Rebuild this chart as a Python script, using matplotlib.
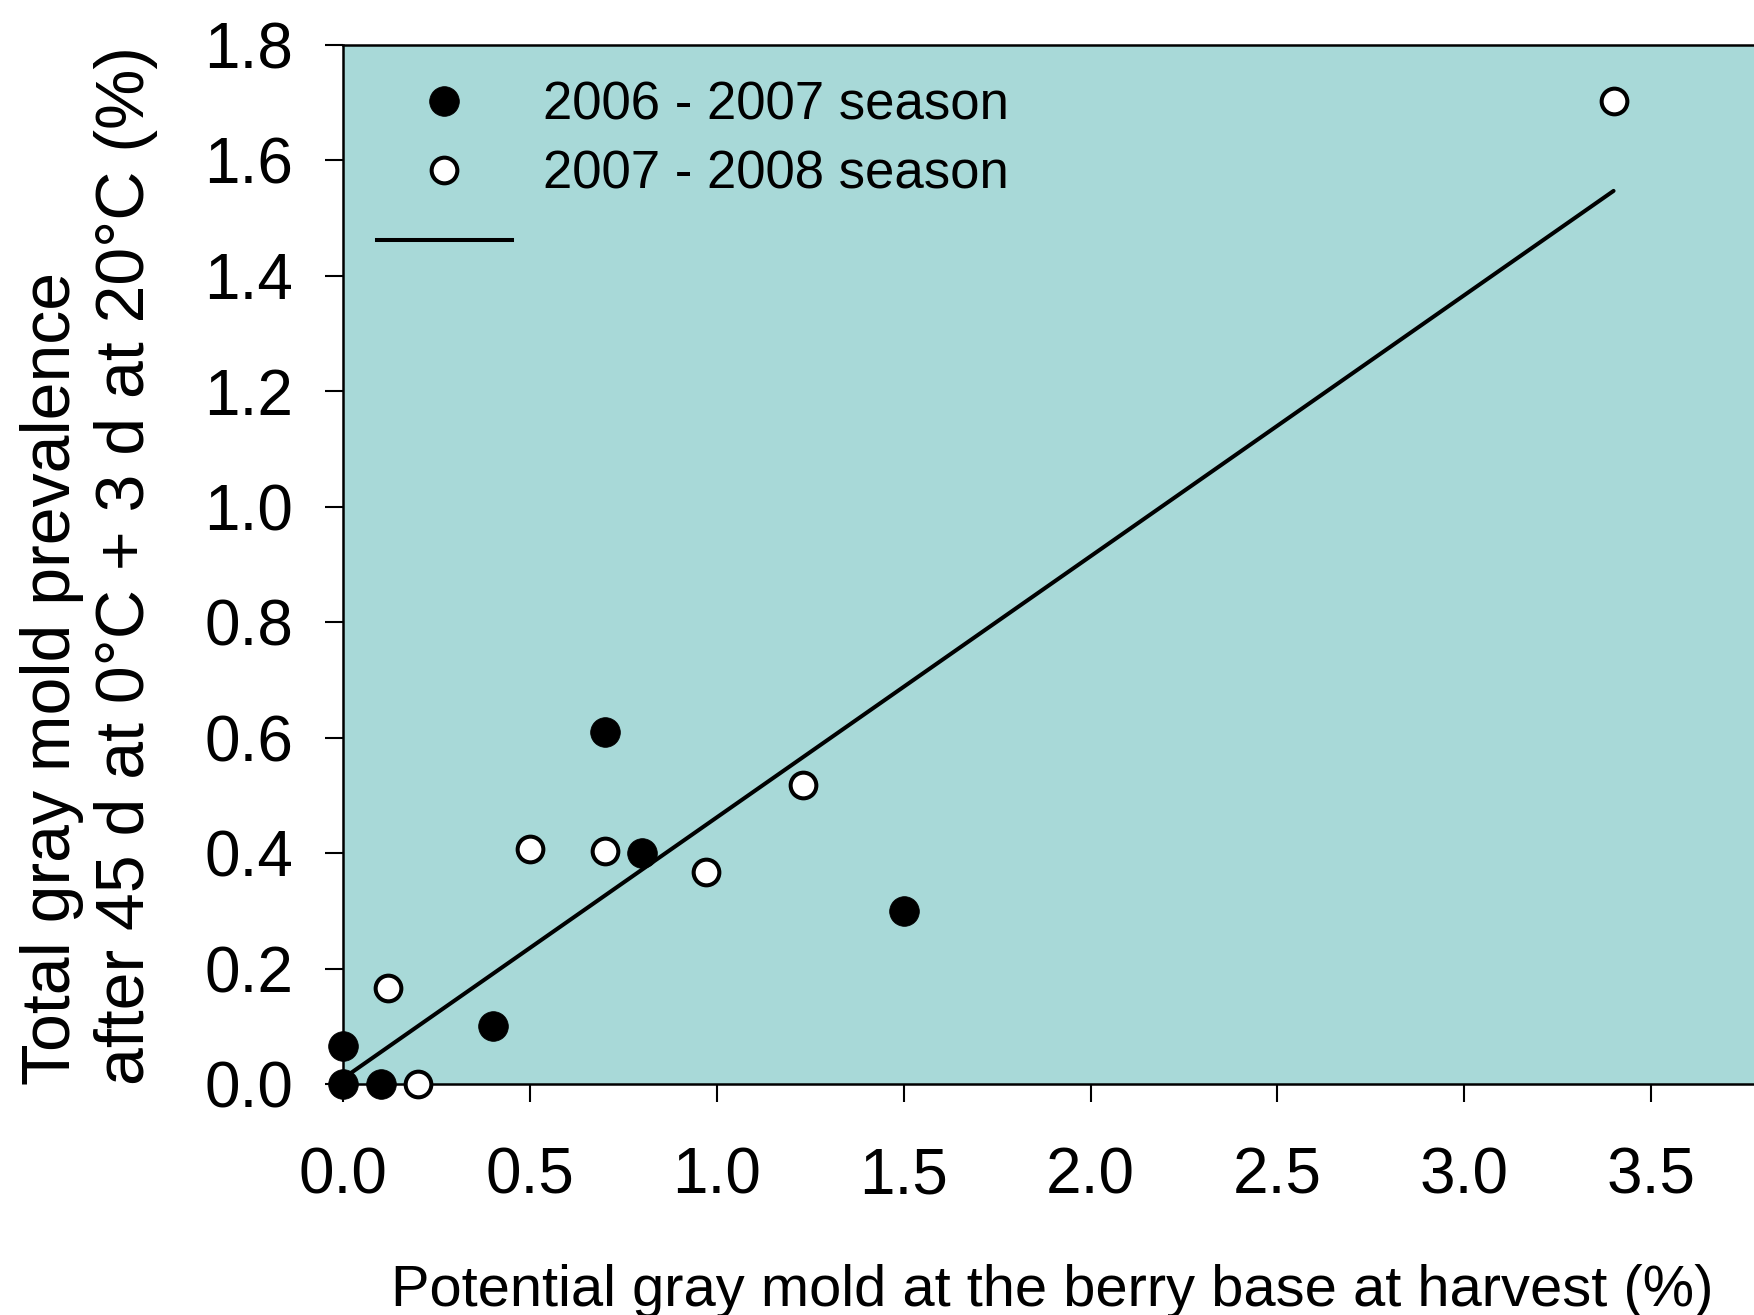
import matplotlib
matplotlib.use("Agg")
import matplotlib.pyplot as plt
from matplotlib.lines import Line2D
import numpy as np

plt.rcParams['font.family'] = ['Liberation Sans', 'DejaVu Sans']

# 2006 - 2007 season (filled markers)
x_0607 = [0.0, 0.0, 0.1, 0.4, 0.7, 0.8, 1.5]
y_0607 = [0.066, 0.0, 0.0, 0.1, 0.61, 0.4, 0.3]

# 2007 - 2008 season (open markers)
x_0708 = [0.12, 0.2, 0.5, 0.7, 0.97, 1.23, 3.4]
y_0708 = [0.167, 0.0, 0.407, 0.403, 0.368, 0.517, 1.703]

# Linear regression over both seasons
fit_intercept = 0.01
fit_slope = 0.452
fit_range = [0.0, 3.4]

x_ticks = [0.0, 0.5, 1.0, 1.5, 2.0, 2.5, 3.0, 3.5]
y_ticks = [0.0, 0.2, 0.4, 0.6, 0.8, 1.0, 1.2, 1.4, 1.6, 1.8]

legend_labels = ['2006 - 2007 season', '2007 - 2008 season', '']

W, H = 1754, 1315
fig = plt.figure(figsize=(W / 100, H / 100), dpi=100)
ax = fig.add_axes([343.4 / W, 1 - 1084 / H, (1763 - 343.4) / W, (1084 - 44.7) / H])
ax.set_facecolor('#a8d9d8')

ax.set_xlim(0, 3.8)
ax.set_ylim(0, 1.8)

fx = np.array(fit_range)
fy = fit_intercept + fit_slope * fx
reg_line, = ax.plot(fx, fy, color='black', lw=2.9, solid_capstyle='round', zorder=3)

ms = 18.5
mew = 2.9
h1, = ax.plot(x_0607, y_0607, 'o', ms=ms + mew, mfc='black', mec='black', mew=0.5,
              clip_on=False, zorder=5)
h2, = ax.plot(x_0708, y_0708, 'o', ms=ms, mfc='white', mec='black', mew=mew,
              clip_on=False, zorder=5)

ax.set_xticks(x_ticks)
ax.set_xticklabels([f'{v:.1f}' for v in x_ticks])
ax.set_yticks(y_ticks)
ax.set_yticklabels([f'{v:.1f}' for v in y_ticks])

ax.tick_params(axis='x', direction='out', length=13, width=1.5, pad=32, labelsize=46)
ax.tick_params(axis='y', direction='out', length=13, width=1.5, pad=23, labelsize=46)

for side in ['left', 'top', 'bottom', 'right']:
    ax.spines[side].set_linewidth(1.8)
    ax.spines[side].set_color('black')

leg_line = Line2D([], [], color='black', lw=2.9)
leg = ax.legend([h1, h2, leg_line], legend_labels, loc='upper left',
                bbox_to_anchor=((377 - 343.4) / (1763 - 343.4), 1 - (80 - 44.7) / (1084 - 44.7)),
                frameon=False, fontsize=38, handlelength=2.55, handletextpad=0.6,
                labelspacing=0.37, borderpad=0, borderaxespad=0, numpoints=1)

fig.text(0.6, 0.0065, 'Potential gray mold at the berry base at harvest (%)',
         ha='center', va='baseline', fontsize=41.7)
fig.text(0.051, 1 - 1085 / H,
         'Total gray mold prevalence\nafter 45 d at 0°C + 3 d at 20°C (%)',
         rotation=90, ha='center', va='bottom', multialignment='left',
         fontsize=49, linespacing=1.2)

fig.savefig('out.png', dpi=100)
